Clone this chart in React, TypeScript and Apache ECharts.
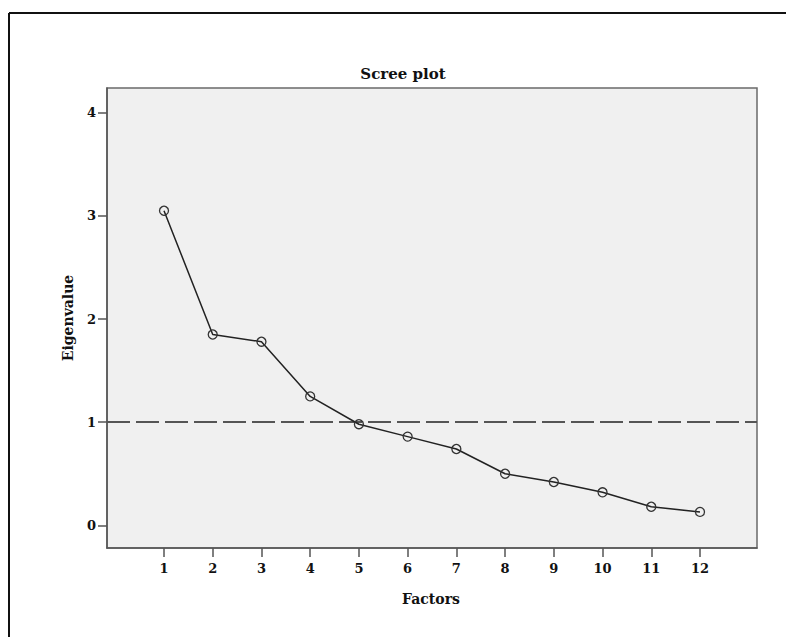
import React, { useEffect, useRef } from "react";
import * as echarts from "echarts";

const factors = [1, 2, 3, 4, 5, 6, 7, 8, 9, 10, 11, 12];
const eigenvalues = [3.05, 1.85, 1.78, 1.25, 0.98, 0.86, 0.74, 0.5, 0.42, 0.32, 0.18, 0.13];
const yTicks = [0, 1, 2, 3, 4];
const referenceLine = 1;
const titleText = "Scree plot";
const xName = "Factors";
const yName = "Eigenvalue";

const FONT = "'DejaVu Serif', serif";

export default function App() {
  const ref = useRef<HTMLDivElement>(null);
  useEffect(() => {
    document.body.style.margin = "0";
    const chart = echarts.init(ref.current!, null, { renderer: "svg" });
    chart.setOption({
      animation: false,
      backgroundColor: "#ffffff",
      grid: {
        left: 107,
        top: 88,
        width: 650,
        height: 460,
        show: true,
        backgroundColor: "#f0f0f0",
        borderColor: "#6a6a6a",
        borderWidth: 1.5,
      },
      xAxis: {
        type: "value",
        min: -0.17,
        max: 13.17,
        splitLine: { show: false },
        axisLine: { onZero: false, lineStyle: { color: "#555", width: 1.5 } },
        axisTick: { show: true, length: 9, customValues: factors, lineStyle: { color: "#555", width: 1.5 } },
        axisLabel: {
          customValues: factors,
          color: "#111",
          fontFamily: FONT,
          fontWeight: "bold",
          fontSize: 13,
          margin: 14,
        },
      },
      yAxis: {
        type: "value",
        min: -0.22,
        max: 4.24,
        splitLine: { show: false },
        axisLine: { onZero: false, lineStyle: { color: "#555", width: 1.5 } },
        axisTick: { show: true, length: 9, customValues: yTicks, lineStyle: { color: "#555", width: 1.5 } },
        axisLabel: {
          customValues: yTicks,
          color: "#111",
          fontFamily: FONT,
          fontWeight: "bold",
          fontSize: 13,
          margin: 11,
        },
      },
      series: [
        {
          type: "line",
          data: factors.map((f, i) => [f, eigenvalues[i]]),
          symbol: "circle",
          symbolSize: 9,
          itemStyle: { color: "transparent", borderColor: "#333", borderWidth: 1.3 },
          lineStyle: { color: "#222", width: 1.5 },
          z: 3,
          markLine: {
            silent: true,
            symbol: "none",
            label: { show: false },
            lineStyle: { color: "#555", width: 2, type: [23, 6] },
            data: [{ yAxis: referenceLine }],
            z: 2,
          },
        },
      ],
      graphic: [
        {
          type: "line",
          shape: { x1: 9, y1: 13, x2: 9, y2: 640 },
          style: { stroke: "#111", lineWidth: 2 },
        },
        {
          type: "line",
          shape: { x1: 9, y1: 13, x2: 790, y2: 13 },
          style: { stroke: "#111", lineWidth: 2 },
        },
        {
          type: "text",
          x: 403,
          y: 74,
          style: {
            text: titleText,
            fontFamily: FONT,
            fontWeight: "bold",
            fontSize: 15,
            fill: "#111",
            align: "center",
            verticalAlign: "middle",
          },
        },
        {
          type: "text",
          x: 431,
          y: 599,
          style: {
            text: xName,
            fontFamily: FONT,
            fontWeight: "bold",
            fontSize: 14,
            fill: "#111",
            align: "center",
            verticalAlign: "middle",
          },
        },
        {
          type: "text",
          x: 68,
          y: 318,
          rotation: Math.PI / 2,
          style: {
            text: yName,
            fontFamily: FONT,
            fontWeight: "bold",
            fontSize: 14,
            fill: "#111",
            align: "center",
            verticalAlign: "middle",
          },
        },
      ],
    });
    return () => chart.dispose();
  }, []);
  return <div ref={ref} style={{ width: 786, height: 637 }} />;
}
